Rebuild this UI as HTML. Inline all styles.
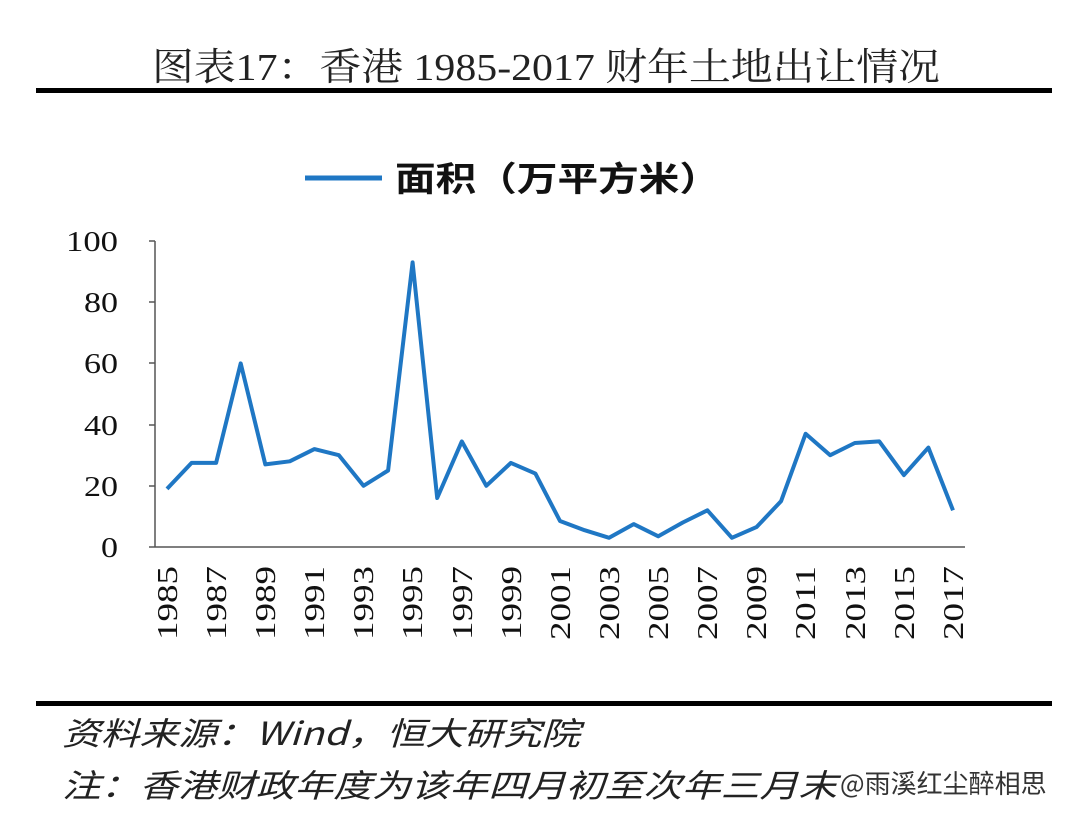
<!DOCTYPE html>
<html><head><meta charset="utf-8"><style>
body{margin:0;background:#fff;}
svg{display:block;}
</style></head><body>
<svg width="1080" height="817" viewBox="0 0 1080 817" xmlns="http://www.w3.org/2000/svg">
<rect width="1080" height="817" fill="#fff"/>
<text x="152" y="80" textLength="788" lengthAdjust="spacingAndGlyphs" font-family="Liberation Serif, 'Noto Serif CJK SC', serif" font-size="38" fill="#222">图表17：香港 1985-2017 财年土地出让情况</text>
<rect x="36" y="88" width="1016" height="5" fill="#000"/>
<line x1="305" y1="178" x2="382" y2="178" stroke="#1f77c4" stroke-width="5"/>
<text x="395" y="191" textLength="325" lengthAdjust="spacingAndGlyphs" font-family="'Noto Sans CJK SC', sans-serif" font-weight="bold" font-size="34" fill="#111">面积（万平方米）</text>
<g stroke="#555" stroke-width="1.5">
<line x1="155" y1="241" x2="155" y2="547"/>
<line x1="155" y1="547" x2="965" y2="547"/>
<line x1="149" y1="241" x2="155" y2="241"/><line x1="149" y1="302" x2="155" y2="302"/><line x1="149" y1="363" x2="155" y2="363"/><line x1="149" y1="425" x2="155" y2="425"/><line x1="149" y1="486" x2="155" y2="486"/><line x1="149" y1="547" x2="155" y2="547"/>
</g>
<g font-family="Liberation Serif, serif" font-size="28" fill="#111">
<text x="66" y="251" textLength="52" lengthAdjust="spacingAndGlyphs">100</text>
<text x="84" y="312" textLength="34" lengthAdjust="spacingAndGlyphs">80</text>
<text x="84" y="373" textLength="34" lengthAdjust="spacingAndGlyphs">60</text>
<text x="84" y="435" textLength="34" lengthAdjust="spacingAndGlyphs">40</text>
<text x="84" y="496" textLength="34" lengthAdjust="spacingAndGlyphs">20</text>
<text x="101" y="557" textLength="17" lengthAdjust="spacingAndGlyphs">0</text>
</g>
<g font-family="Liberation Serif, serif" font-size="28" fill="#111">
<text transform="translate(177,640) rotate(-90)" textLength="74" lengthAdjust="spacingAndGlyphs">1985</text>
<text transform="translate(226,640) rotate(-90)" textLength="74" lengthAdjust="spacingAndGlyphs">1987</text>
<text transform="translate(275,640) rotate(-90)" textLength="74" lengthAdjust="spacingAndGlyphs">1989</text>
<text transform="translate(324,640) rotate(-90)" textLength="74" lengthAdjust="spacingAndGlyphs">1991</text>
<text transform="translate(373,640) rotate(-90)" textLength="74" lengthAdjust="spacingAndGlyphs">1993</text>
<text transform="translate(422,640) rotate(-90)" textLength="74" lengthAdjust="spacingAndGlyphs">1995</text>
<text transform="translate(472,640) rotate(-90)" textLength="74" lengthAdjust="spacingAndGlyphs">1997</text>
<text transform="translate(521,640) rotate(-90)" textLength="74" lengthAdjust="spacingAndGlyphs">1999</text>
<text transform="translate(570,640) rotate(-90)" textLength="74" lengthAdjust="spacingAndGlyphs">2001</text>
<text transform="translate(619,640) rotate(-90)" textLength="74" lengthAdjust="spacingAndGlyphs">2003</text>
<text transform="translate(668,640) rotate(-90)" textLength="74" lengthAdjust="spacingAndGlyphs">2005</text>
<text transform="translate(717,640) rotate(-90)" textLength="74" lengthAdjust="spacingAndGlyphs">2007</text>
<text transform="translate(766,640) rotate(-90)" textLength="74" lengthAdjust="spacingAndGlyphs">2009</text>
<text transform="translate(815,640) rotate(-90)" textLength="74" lengthAdjust="spacingAndGlyphs">2011</text>
<text transform="translate(865,640) rotate(-90)" textLength="74" lengthAdjust="spacingAndGlyphs">2013</text>
<text transform="translate(914,640) rotate(-90)" textLength="74" lengthAdjust="spacingAndGlyphs">2015</text>
<text transform="translate(963,640) rotate(-90)" textLength="74" lengthAdjust="spacingAndGlyphs">2017</text>
</g>
<polyline fill="none" stroke="#1f77c4" stroke-width="4" stroke-linejoin="round" points="167,488.9 191.6,462.9 216.1,462.9 240.7,363.4 265.3,464.4 289.8,461.3 314.4,449.1 338.9,455.2 363.5,485.8 388.1,470.5 412.6,262.4 437.2,498 461.8,441.4 486.3,485.8 510.9,462.9 535.4,473.6 560,521 584.6,530.2 609.1,537.8 633.7,524.1 658.3,536.3 682.8,522.5 707.4,510.3 731.9,537.8 756.5,527.1 781.1,501.1 805.6,433.8 830.2,455.2 854.8,443 879.3,441.4 903.9,475.1 928.4,447.6 953,510.3"/>
<rect x="36" y="701" width="1016" height="5" fill="#000"/>
<g font-family="'Noto Sans CJK SC', sans-serif" font-size="32" fill="#222" font-style="italic">
<text x="62" y="745" textLength="518" lengthAdjust="spacingAndGlyphs">资料来源：Wind，恒大研究院</text>
<text x="62" y="797" textLength="775" lengthAdjust="spacingAndGlyphs">注：香港财政年度为该年四月初至次年三月末</text>
</g>
<text x="840" y="793" font-family="'Noto Sans CJK SC', sans-serif" font-size="26" fill="#333">@雨溪红尘醉相思</text>
</svg>
</body></html>
